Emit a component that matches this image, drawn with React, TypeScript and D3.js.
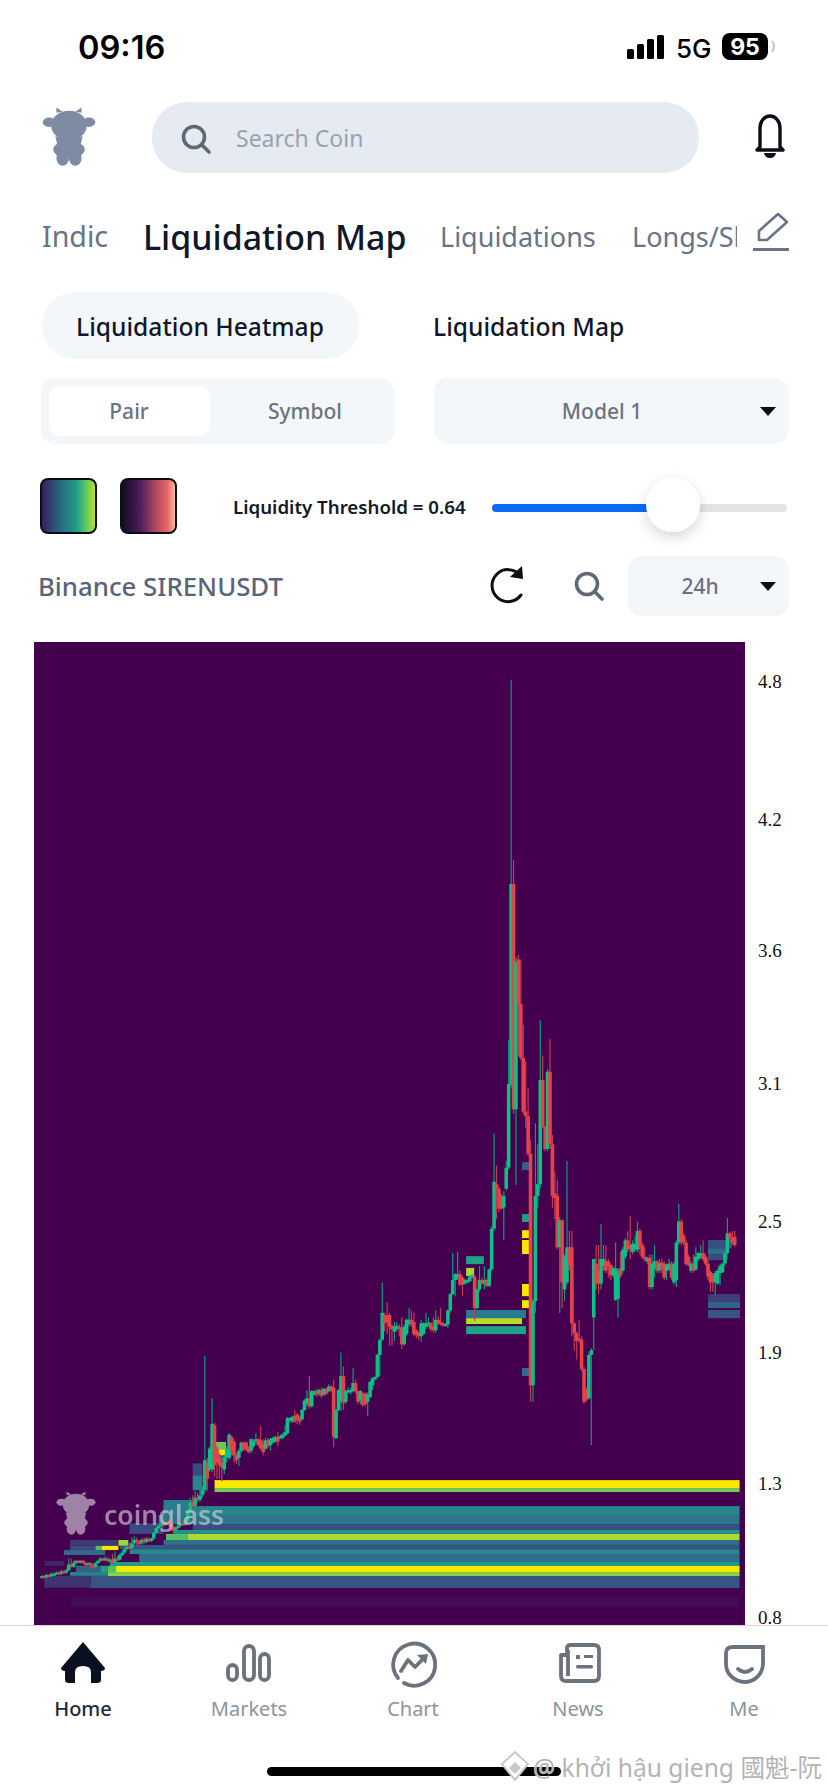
import React, { useEffect, useRef } from 'react';
import * as d3 from 'd3';

type Candle = [number, number, number, number]; // open, close, high, low
type Cell = [number, number, number, number, number]; // from, to, low, high, value

const launchCandles: Candle[] = [
  [.97,.975,.98,.965],[.975,.97,.98,.965],[.97,.98,.985,.965],[.98,.975,.985,.97],[.975,.985,.99,.97],[.98,.985,.99,.975],
  [.985,.99,.995,.98],[.99,.985,.995,.98],[.985,.995,1,.98],[.995,.99,1,.985],[.99,1,1.005,.985],
  [1,1.025,1.05,.995],[1.025,1.015,1.05,1.01],[1.015,1.03,1.04,1.01],[1.03,1.04,1.045,1.025],[1.04,1.035,1.045,1.03],
  [1.035,1.04,1.045,1.03],[1.04,1.03,1.045,1.025],[1.03,1.025,1.035,1.015],[1.025,1.03,1.035,1.02],[1.03,1.02,1.035,1.01],
  [1.02,1.015,1.03,1.005],[1.015,1.03,1.035,1.01],[1.03,1.04,1.045,1.025],[1.04,1.05,1.055,1.035],[1.05,1.045,1.055,1.04],
  [1.045,1.05,1.06,1.04],[1.05,1.04,1.055,1.035],[1.04,1.045,1.05,1.03],[1.045,1.035,1.07,1.03],[1.035,1.05,1.08,1.03],
  [1.05,1.045,1.06,1.04],[1.045,1.065,1.07,1.04],[1.065,1.075,1.085,1.06],[1.075,1.09,1.095,1.07],[1.09,1.1,1.105,1.085],
  [1.1,1.095,1.12,1.09],[1.095,1.115,1.14,1.09],[1.115,1.13,1.145,1.105],[1.13,1.12,1.14,1.105],[1.12,1.115,1.13,1.105],
  [1.115,1.13,1.135,1.11],[1.13,1.12,1.14,1.11],[1.12,1.135,1.14,1.115],[1.135,1.125,1.14,1.12],[1.125,1.135,1.14,1.12],
  [1.135,1.16,1.165,1.13],[1.16,1.18,1.185,1.155],[1.18,1.19,1.195,1.175],[1.19,1.2,1.21,1.185],[1.2,1.195,1.215,1.185],
  [1.195,1.205,1.22,1.19],[1.205,1.2,1.215,1.19],[1.2,1.185,1.21,1.17],[1.185,1.17,1.195,1.16],[1.17,1.18,1.19,1.165],
  [1.18,1.19,1.195,1.175],[1.19,1.2,1.205,1.185],[1.2,1.195,1.21,1.19],[1.195,1.21,1.215,1.19],[1.21,1.25,1.255,1.205],
  [1.25,1.29,1.31,1.24],[1.29,1.275,1.32,1.265],[1.275,1.31,1.34,1.27],[1.31,1.3,1.33,1.29],[1.3,1.32,1.35,1.29],[1.32,1.343,1.36,1.31],
];

const climbCandles: Candle[] = [
  [1.343,1.47,1.916,1.33],[1.46,1.39,1.48,1.34],[1.43,1.52,1.53,1.42],[1.43,1.625,1.735,1.42],[1.62,1.45,1.63,1.4],
  [1.52,1.46,1.53,1.39],[1.48,1.45,1.5,1.39],[1.46,1.44,1.47,1.38],[1.43,1.48,1.49,1.41],[1.48,1.52,1.53,1.46],
  [1.48,1.58,1.585,1.47],[1.57,1.51,1.575,1.49],[1.55,1.49,1.56,1.46],[1.49,1.47,1.5,1.455],[1.48,1.51,1.52,1.445],
  [1.51,1.545,1.55,1.5],[1.545,1.52,1.55,1.51],[1.545,1.515,1.55,1.51],[1.52,1.505,1.53,1.5],[1.51,1.56,1.565,1.5],
  [1.53,1.55,1.56,1.52],[1.55,1.56,1.585,1.54],[1.56,1.535,1.565,1.53],[1.555,1.52,1.615,1.515],[1.54,1.505,1.56,1.49],[1.52,1.555,1.565,1.515],
  [1.555,1.53,1.565,1.52],[1.535,1.56,1.565,1.51],[1.545,1.565,1.57,1.54],[1.55,1.57,1.575,1.545],[1.57,1.55,1.59,1.53],
  [1.565,1.572,1.58,1.56],[1.565,1.58,1.585,1.56],[1.575,1.59,1.62,1.57],[1.585,1.65,1.655,1.58],[1.64,1.65,1.655,1.63],
  [1.635,1.655,1.66,1.63],[1.66,1.635,1.685,1.63],[1.665,1.645,1.67,1.625],[1.65,1.635,1.66,1.62],[1.645,1.685,1.69,1.64],
  [1.685,1.725,1.73,1.68],[1.71,1.735,1.77,1.7],[1.735,1.7,1.83,1.69],[1.7,1.765,1.77,1.695],[1.75,1.765,1.77,1.745],
  [1.765,1.75,1.775,1.74],[1.755,1.77,1.775,1.745],[1.77,1.745,1.78,1.735],[1.75,1.775,1.78,1.745],[1.775,1.755,1.78,1.75],
  [1.765,1.785,1.795,1.76],[1.785,1.77,1.79,1.76],[1.78,1.57,1.815,1.525],[1.565,1.685,1.69,1.56],[1.685,1.77,1.775,1.68],
  [1.72,1.83,1.93,1.68],[1.83,1.715,1.87,1.685],[1.72,1.765,1.77,1.71],[1.76,1.77,1.78,1.755],[1.76,1.77,1.78,1.75],[1.765,1.8,1.865,1.76],
  [1.8,1.765,1.815,1.755],[1.765,1.72,1.77,1.71],[1.725,1.765,1.77,1.71],[1.755,1.705,1.76,1.7],[1.755,1.71,1.76,1.7],
  [1.72,1.75,1.76,1.66],[1.74,1.805,1.81,1.735],[1.79,1.82,1.825,1.77],[1.815,1.825,1.83,1.81],[1.826,1.92,1.925,1.82],
  [1.92,1.985,1.99,1.83],[1.985,2.1,2.23,1.98],[2.09,2.055,2.1,2.02],[2.09,2.06,2.145,2.01],[2.09,2.04,2.1,1.96],
  [2.045,2.03,2.05,1.96],[2.02,2.04,2.06,1.98],[2.03,2.045,2.06,2.02],[2.04,2.035,2.05,2],[2.035,1.965,2.08,1.945],[1.965,2.04,2.05,1.96],
  [2.01,2.07,2.075,2],[2.05,2.07,2.12,2.04],[2.07,2.055,2.11,2.04],[2.06,2.01,2.1,2],[2.025,2.005,2.03,1.99],
  [2.015,2,2.02,1.985],[2,2.055,2.07,1.975],[2.01,2.055,2.06,2.005],[2.04,2.055,2.1,2.03],[2.05,2.058,2.08,2.04],
  [2.055,2.03,2.06,2.02],[2.04,2.025,2.08,2.015],[2.025,2.07,2.11,2.015],[2.07,2.055,2.085,2.05],[2.06,2.05,2.12,2.045],
  [2.055,2.045,2.06,2.04],[2.045,2.052,2.055,2.04],[2.05,2.11,2.115,2.035],[2.11,2.18,2.185,2.1],[2.18,2.24,2.355,2.175],
  [2.24,2.265,2.27,2.17],[2.25,2.265,2.36,2.24],[2.265,2.22,2.28,2.215],[2.25,2.22,2.26,2.175],[2.225,2.24,2.245,2.22],
  [2.23,2.24,2.245,2.225],[2.235,2.255,2.26,2.23],[2.25,2.26,2.265,2.245],[2.255,2.12,2.26,2.065],[2.12,2.2,2.205,2.115],
  [2.2,2.24,2.3,2.19],[2.24,2.225,2.25,2.22],[2.225,2.24,2.3,2.2],[2.24,2.215,2.245,2.21],[2.215,2.285,2.29,2.21],
  [2.285,2.46,2.47,2.28],[2.46,2.66,2.865,2.45],[2.65,2.63,2.73,2.5],[2.63,2.545,2.64,2.53],[2.6,2.545,2.61,2.54],
  [2.55,2.6,2.62,2.41],[2.63,2.72,2.75,2.62],
];

const spikeCandles: Candle[] = [
  [2.72,3.078,3.266,2.71],[3.074,3.933,4.805,3.06],[3.933,2.97,4.035,2.95],[2.97,3.6,3.62,2.645],[3.61,3.42,3.63,3.2],
  [3.42,3.19,3.61,3.18],[3.19,2.96,3.33,2.95],[2.96,2.94,3.175,2.89],[2.94,2.78,3.06,2.77],[2.78,1.79,2.84,1.72],
  [1.79,2.15,2.16,1.72],[2.15,2.6,2.91,2.1],[2.6,2.65,2.82,2.55],[2.65,3.095,3.35,2.63],[3.095,2.895,3.2,2.89],
  [2.895,2.8,2.9,2.79],[2.8,3.13,3.14,2.79],[3.13,2.82,3.27,2.8],[2.82,2.6,2.86,2.55],[2.61,2.59,2.7,2.5],
  [2.6,2.38,2.67,2.37],[2.38,2.495,2.51,2.1],[2.495,2.23,2.5,2.12],[2.2,2.34,2.35,2.15],[2.23,2.38,2.75,2.22],
  [2.38,2.3,2.45,2.28],[2.38,2.055,2.45,2],[2.055,2.012,2.06,1.94],[2.012,1.98,2.02,1.9],[1.99,1.985,2.07,1.97],
  [1.985,1.86,2,1.85],[1.86,1.72,1.87,1.71],[1.77,1.73,1.78,1.72],[1.735,1.92,1.93,1.73],[1.92,1.94,1.95,1.535],
  [2.08,2.33,2.33,1.94],
];

const rangeCandles: Candle[] = [
  [2.31,2.225,2.39,2.2],[2.28,2.225,2.39,2.18],[2.225,2.33,2.48,2.2],[2.3,2.33,2.39,2.28],[2.32,2.28,2.39,2.27],
  [2.32,2.3,2.33,2.25],[2.305,2.26,2.31,2.24],[2.26,2.29,2.3,2.25],[2.155,2.29,2.4,2.15],[2.16,2.28,2.29,2.08],
  [2.29,2.26,2.36,2.25],[2.28,2.37,2.38,2.27],[2.34,2.41,2.42,2.33],[2.41,2.37,2.45,2.36],[2.39,2.37,2.515,2.33],
  [2.36,2.395,2.41,2.35],[2.37,2.395,2.43,2.36],[2.37,2.45,2.49,2.36],[2.45,2.38,2.46,2.35],[2.39,2.34,2.4,2.33],
  [2.34,2.33,2.38,2.32],[2.32,2.335,2.34,2.31],[2.335,2.21,2.35,2.2],[2.21,2.31,2.35,2.2],[2.29,2.32,2.39,2.25],
  [2.32,2.28,2.325,2.27],[2.28,2.31,2.33,2.27],[2.315,2.285,2.33,2.27],[2.31,2.25,2.32,2.24],[2.28,2.305,2.31,2.24],
  [2.285,2.31,2.33,2.28],[2.31,2.25,2.32,2.24],[2.23,2.31,2.32,2.22],[2.24,2.4,2.41,2.21],[2.4,2.49,2.565,2.39],
  [2.49,2.4,2.5,2.39],[2.43,2.4,2.44,2.39],[2.4,2.31,2.41,2.3],[2.34,2.305,2.35,2.3],[2.28,2.31,2.32,2.27],
  [2.31,2.28,2.35,2.27],[2.285,2.34,2.38,2.28],[2.33,2.355,2.36,2.32],[2.34,2.355,2.39,2.33],[2.355,2.33,2.41,2.32],
  [2.34,2.31,2.35,2.3],[2.31,2.255,2.33,2.24],[2.275,2.23,2.28,2.19],[2.26,2.23,2.27,2.19],[2.23,2.27,2.28,2.175],
  [2.225,2.28,2.29,2.22],[2.27,2.3,2.31,2.22],[2.275,2.31,2.315,2.27],[2.31,2.355,2.36,2.3],[2.355,2.44,2.505,2.35],
  [2.44,2.42,2.445,2.41],[2.42,2.4,2.45,2.39],[2.425,2.39,2.45,2.38],
];

// liquidity bands that stay open to the right edge
const longBands: Cell[] = [
  [30,287,.992,1.018,1],[27,287,.975,.992,.82],[20,287,.924,.975,.24],[28,287,1.018,1.035,.55],
  [40,287,1.035,1.069,.36],[36,287,1.069,1.09,.46],[32,287,1.09,1.108,.24],[50,287,1.108,1.129,.36],
  [51,60,1.129,1.155,.72],[60,287,1.129,1.155,.88],[54,287,1.155,1.172,.5],[62,287,1.172,1.197,.22],
  [48,287,1.197,1.236,.38],[50,287,1.236,1.274,.45],[71,287,1.351,1.385,1],[71,287,1.334,1.351,.78],
  [12,287,.844,.887,.03],
];

const earlyCells: Cell[] = [
  [1,20,.925,.976,.14],[11.5,27,.976,.992,.45],[14,24,.992,1.019,.3],[24,27,.992,1.019,.55],[27,30.5,.992,1.019,.72],
  [9,26,1.065,1.086,.34],[11.5,22,1.086,1.105,.2],[22,24.5,1.086,1.105,.72],[24.5,31.4,1.086,1.105,1],
  [11.5,31,1.105,1.129,.16],[31.4,35.5,1.105,1.129,.85],[36,50,1.155,1.2,.2],[1,9,1.019,1.04,.1],
  [50,62,1.236,1.3,.42],[62,66,1.342,1.406,.45],[62,66,1.406,1.456,.2],
  [71,75.7,1.517,1.548,.76],[71,75.7,1.49,1.517,1],[71,75.7,1.471,1.49,.3],
];

const spikeCells: Cell[] = [
  [174.5,181.8,2.308,2.342,.58],[174.5,177.8,2.257,2.292,.87],[174.5,199.1,2.077,2.112,.4],
  [174.5,197.5,2.052,2.077,.9],[174.5,199.1,2.009,2.043,.58],[197.5,201.6,2.71,2.744,.3],
  [197.5,201.6,2.488,2.522,.56],[197.5,200.8,2.419,2.453,1],[197.5,200.8,2.351,2.411,1],
  [197.5,200.8,2.171,2.223,1],[197.5,200.8,2.12,2.154,1],[197.5,200.8,1.83,1.864,.35],
];

const lateCells: Cell[] = [
  [274,283.9,2.376,2.411,.22],[274,282.3,2.351,2.376,.34],[274,282.3,2.325,2.351,.2],
  [274,287.2,2.146,2.18,.17],[274,287.2,2.12,2.146,.3],[274,287.2,2.077,2.112,.24],
];

const tickValues = [4.8, 4.21, 3.65, 3.08, 2.49, 1.93, 1.37, 0.8];
const tickLabels = ['4.8', '4.2', '3.6', '3.1', '2.5', '1.9', '1.3', '0.8'];
const heatStops = ['#44004f', '#3a4a80', '#2a7a8e', '#21a585', '#7ad151', '#f6e800'];
const navItems = ['Home', 'Markets', 'Chart', 'News', 'Me'];

const UI = '"Noto Sans", sans-serif';

function Cow({ x, y, s, fill, opacity = 1 }: { x: number; y: number; s: number; fill: string; opacity?: number }) {
  return (
    <g transform={`translate(${x},${y}) scale(${s})`} fill={fill} opacity={opacity}>
      <ellipse cx="0" cy="-12" rx="17" ry="14" />
      <ellipse cx="-19" cy="-15" rx="6" ry="4.5" />
      <ellipse cx="19" cy="-15" rx="6" ry="4.5" />
      <path d="M-12 -24 L-12 -29 L-6 -25 Z M12 -24 L12 -29 L6 -25 Z" />
      <path d="M-13 -2 Q0 3 13 -2 L10 12 L-10 12 Z" />
      <ellipse cx="0" cy="11" rx="15" ry="8" />
      <ellipse cx="-6" cy="19" rx="6" ry="7.5" />
      <ellipse cx="6" cy="19" rx="6" ry="7.5" />
    </g>
  );
}

function Magnifier({ x, y, color }: { x: number; y: number; color: string }) {
  return (
    <g fill="none" stroke={color} strokeWidth="3.6" strokeLinecap="round">
      <circle cx={x - 2} cy={y - 2} r="10.5" />
      <path d={`M${x + 6} ${y + 6} L${x + 13} ${y + 13}`} />
    </g>
  );
}

function Caret({ x, y }: { x: number; y: number }) {
  return <path d={`M${x - 8} ${y - 4} L${x + 8} ${y - 4} L${x} ${y + 5} Z`} fill="#0b0e14" />;
}

export default function App() {
  const chartRef = useRef<SVGGElement>(null);

  useEffect(() => {
    document.body.style.margin = '0';
    const g = d3.select(chartRef.current);
    g.selectAll('*').remove();

    const x = d3.scaleLinear().domain([0, 288]).range([42, 742]);
    const y = d3.scaleLinear().domain([0.8, 4.8]).range([1617, 681]);
    const color = d3.scaleLinear<string>()
      .domain([0, 0.2, 0.4, 0.6, 0.8, 1])
      .range(heatStops);

    g.append('rect')
      .attr('x', 34).attr('y', 642).attr('width', 711).attr('height', 984)
      .attr('fill', color(0));

    const cells = [...longBands, ...earlyCells, ...spikeCells, ...lateCells];
    g.append('g').selectAll('rect').data(cells).enter().append('rect')
      .attr('x', d => x(d[0]))
      .attr('width', d => x(d[1]) - x(d[0]))
      .attr('y', d => y(d[3]))
      .attr('height', d => y(d[2]) - y(d[3]))
      .attr('fill', d => color(d[4]));

    const candles = [...launchCandles, ...climbCandles, ...spikeCandles, ...rangeCandles];
    const up = '#0fbf85';
    const down = '#e5434a';
    const marks = g.append('g').selectAll('g').data(candles).enter().append('g');
    marks.append('line')
      .attr('x1', (_, i) => x(i)).attr('x2', (_, i) => x(i))
      .attr('y1', d => y(d[2])).attr('y2', d => y(d[3]))
      .attr('stroke', d => (d[1] >= d[0] ? '#0a9c78' : '#c93a52'))
      .attr('stroke-width', 1.2);
    marks.append('rect')
      .attr('x', (_, i) => x(i) - 1.8)
      .attr('width', 3.6)
      .attr('y', d => y(Math.max(d[0], d[1])))
      .attr('height', d => Math.max(2, Math.abs(y(d[0]) - y(d[1]))))
      .attr('fill', d => (d[1] >= d[0] ? up : down));

    const axis = d3.axisRight(y)
      .tickValues(tickValues)
      .tickSize(0)
      .tickFormat((_, i) => tickLabels[i]);
    const ag = g.append('g').attr('transform', 'translate(758,0)').call(axis);
    ag.select('.domain').remove();
    ag.selectAll('text')
      .attr('x', 0)
      .style('font-family', '"Liberation Serif", serif')
      .style('font-size', '19px')
      .style('fill', '#111');
    ag.selectAll('.tick text').attr('dy', '0.33em');
  }, []);

  return (
    <svg width={828} height={1792} style={{ position: 'absolute', left: 0, top: 0, background: '#fff' }}>
      <defs>
        <linearGradient id="swatchA" x1="0" x2="1" y1="0" y2="0">
          <stop offset="0" stopColor="#3b1a5c" />
          <stop offset="0.35" stopColor="#26687f" />
          <stop offset="0.65" stopColor="#1f9e89" />
          <stop offset="0.85" stopColor="#6ece58" />
          <stop offset="1" stopColor="#c4e02a" />
        </linearGradient>
        <linearGradient id="swatchB" x1="0" x2="1" y1="0" y2="0">
          <stop offset="0" stopColor="#0f0a20" />
          <stop offset="0.35" stopColor="#4a1f5c" />
          <stop offset="0.65" stopColor="#b44a60" />
          <stop offset="0.85" stopColor="#e8686a" />
          <stop offset="1" stopColor="#f8c89c" />
        </linearGradient>
        <filter id="knobShadow" x="-50%" y="-50%" width="200%" height="200%">
          <feDropShadow dx="0" dy="5" stdDeviation="7" floodColor="#000" floodOpacity="0.16" />
        </filter>
        <clipPath id="tabClip"><rect x="0" y="200" width="737" height="70" /></clipPath>
      </defs>

      {/* status bar */}
      <text x="78" y="59" fontFamily="Inter, sans-serif" fontWeight="600" fontSize="32.6" fill="#000">09:16</text>
      {[10, 15, 20, 24].map((h, i) => (
        <rect key={i} x={627 + i * 10} y={59 - h} width="7" height={h} rx="1.5" fill="#000" />
      ))}
      <text x="676" y="58" fontFamily="Inter, sans-serif" fontWeight="500" fontSize="26" fill="#000">5G</text>
      <rect x="722" y="33" width="46" height="27" rx="8" fill="#000" />
      <text x="745" y="55" textAnchor="middle" fontFamily="Inter, sans-serif" fontWeight="700" fontSize="23" fill="#fff">95</text>
      <path d="M772 41 Q776 46 772 52" fill="none" stroke="#c4c4c4" strokeWidth="2" />

      {/* search row */}
      <Cow x={69} y={138} s={1.05} fill="#7f8aa3" />
      <rect x="152" y="102" width="547" height="71" rx="35" fill="#e6eaf1" />
      <Magnifier x={196} y={139} color="#5f6874" />
      <text x="236" y="147" fontFamily={UI} fontSize="23" fill="#9aa3b0">Search Coin</text>
      <g fill="none" stroke="#0b0e14" strokeWidth="3.4" strokeLinejoin="round" strokeLinecap="round">
        <path d="M760 147 L760 128 A10 12 0 0 1 780 128 L780 147 L783 150 L757 150 Z" />
      </g>
      <path d="M764 153 L776 153 Q775 158 770 158 Q765 158 764 153 Z" fill="#0b0e14" />

      {/* tabs */}
      <g clipPath="url(#tabClip)" fontFamily={UI} fill="#697386">
        <text x="42" y="247" fontSize="28.6">Indic</text>
        <text x="143" y="250" fontSize="33.9" fill="#0f172a" fontWeight="500">Liquidation Map</text>
        <text x="440" y="247" fontSize="27">Liquidations</text>
        <text x="632" y="247" fontSize="27">Longs/Short</text>
      </g>
      <path d="M759 240 L759 231 L778 214 L787 222 L767 240 Z" fill="none" stroke="#697386" strokeWidth="2.6" strokeLinejoin="round" />
      <rect x="753" y="248" width="36" height="3" fill="#697386" />

      {/* heatmap / map switch */}
      <rect x="42" y="292" width="317" height="67" rx="33" fill="#f4f7fa" />
      <text x="76" y="336" fontFamily={UI} fontSize="24.6" fontWeight="500" fill="#0f172a">Liquidation Heatmap</text>
      <text x="433" y="336" fontFamily={UI} fontSize="24.6" fontWeight="500" fill="#0f172a">Liquidation Map</text>

      <rect x="41" y="378" width="353" height="66" rx="14" fill="#f4f7fa" />
      <rect x="49" y="386" width="161" height="50" rx="10" fill="#fff" />
      <text x="129" y="419" textAnchor="middle" fontFamily={UI} fontSize="21" fontWeight="500" fill="#6b7280">Pair</text>
      <text x="305" y="419" textAnchor="middle" fontFamily={UI} fontSize="21" fontWeight="500" fill="#6b7280">Symbol</text>
      <rect x="434" y="378" width="355" height="66" rx="14" fill="#f4f7fa" />
      <text x="602" y="419" textAnchor="middle" fontFamily={UI} fontSize="21" fontWeight="500" fill="#6b7280">Model 1</text>
      <Caret x={768} y={411} />

      {/* colour swatches and threshold */}
      <rect x="41" y="479" width="55" height="54" rx="7" fill="url(#swatchA)" stroke="#0b0e14" strokeWidth="2" />
      <rect x="121" y="479" width="55" height="54" rx="7" fill="url(#swatchB)" stroke="#0b0e14" strokeWidth="2" />
      <text x="233" y="514" fontFamily={UI} fontSize="18.7" fontWeight="600" fill="#111827">Liquidity Threshold = 0.64</text>
      <rect x="492" y="504" width="295" height="8" rx="4" fill="#e3e3e3" />
      <rect x="492" y="504" width="160" height="8" rx="4" fill="#0a6cf0" />
      <circle cx="673" cy="505" r="27" fill="#fff" filter="url(#knobShadow)" />

      {/* chart header */}
      <text x="38" y="596" fontFamily={UI} fontSize="25.8" fontWeight="500" fill="#5a6478">Binance SIRENUSDT</text>
      <path d="M520 575 A16 16 0 1 0 521 595" fill="none" stroke="#0b0e14" strokeWidth="3" strokeLinecap="round" />
      <path d="M510 577 L523 579 L522 566 Z" fill="#0b0e14" />
      <Magnifier x={589} y={586} color="#5f6874" />
      <rect x="628" y="556" width="161" height="60" rx="14" fill="#f4f7fa" />
      <text x="700" y="594" textAnchor="middle" fontFamily={UI} fontSize="21" fontWeight="500" fill="#6b7280">24h</text>
      <Caret x={768} y={586} />

      {/* chart */}
      <g ref={chartRef} />

      {/* chart watermark */}
      <Cow x={76} y={1514} s={0.78} fill="#d8d2dc" opacity={0.62} />
      <text x="104" y="1525" fontFamily={UI} fontSize="26.6" fontWeight="600" fill="#d8d2dc" opacity="0.62">coinglass</text>

      {/* bottom navigation */}
      <rect x="0" y="1626" width="828" height="166" fill="#fff" />
      <rect x="0" y="1625" width="828" height="1" fill="#d6d6d6" />
      <path d="M83 1642 L105 1668 Q105 1671 101 1671 L101 1680 Q101 1683 97 1683 L91 1683 L91 1672 Q91 1666 83 1666 Q75 1666 75 1672 L75 1683 L69 1683 Q65 1683 65 1680 L65 1671 Q61 1671 61 1668 Z" fill="#0a1020" />
      <g fill="none" stroke="#6b727c" strokeWidth="3.8">
        <rect x="228" y="1665" width="9" height="15" rx="4.5" />
        <rect x="244" y="1646" width="10" height="34" rx="5" />
        <rect x="260" y="1654" width="9" height="26" rx="4.5" />
        <path d="M398 1678 A21 21 0 1 1 404 1683" strokeLinecap="round" />
        <path d="M401 1671 L408 1660 L415 1667 L425 1657" strokeLinecap="round" strokeLinejoin="round" />
        <path d="M567 1655 L567 1648 Q567 1645 571 1645 L594 1645 Q599 1645 599 1650 L599 1676 Q599 1681 594 1681 L566 1681 Q561 1681 561 1676 L561 1655 Z" strokeLinejoin="round" />
        <path d="M568 1650 L568 1676" />
        <path d="M726 1664 L726 1653 Q726 1647 733 1647 L763 1647 L763 1664 A18.5 18.5 0 0 1 745 1682 A19 18 0 0 1 726 1664" strokeLinecap="round" />
        <path d="M738 1669 Q745 1675 752 1669" strokeLinecap="round" />
      </g>
      <rect x="576" y="1655" width="4" height="4" fill="#6b727c" />
      <rect x="584" y="1655" width="9" height="3" fill="#6b727c" />
      <rect x="576" y="1665" width="17" height="3.6" rx="1.5" fill="#6b727c" />
      <path d="M417 1655 L428 1654 L426 1664 Z" fill="#6b727c" />
      {navItems.map((label, i) => (
        <text key={label} x={[83, 249, 413, 578, 744][i]} y="1716" textAnchor="middle" fontFamily={UI}
          fontSize="20" fontWeight={i === 0 ? 500 : 400} fill={i === 0 ? '#1f2937' : '#8e949c'}>{label}</text>
      ))}

      {/* home indicator and source watermark */}
      <rect x="267" y="1767" width="294" height="9" rx="4.5" fill="#000" />
      <path d="M515 1752 L528 1764 L515 1780 L502 1764 Z" fill="#fff" stroke="#c9c9c9" strokeWidth="2" />
      <path d="M515 1762 L521 1768 L515 1774 L509 1768 Z" fill="#c9c9c9" />
      <text x="533" y="1777" fontFamily='"Noto Sans", "Noto Sans CJK TC", sans-serif' fontSize="24.6"
        fill="#b4b4b4" stroke="#fff" strokeWidth="0.6" paintOrder="stroke">@ khởi hậu gieng  國魁-阮</text>
    </svg>
  );
}
